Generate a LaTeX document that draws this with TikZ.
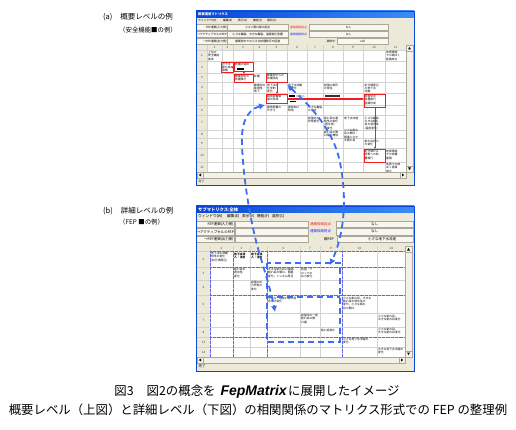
\documentclass[tikz,border=0pt]{standalone}
\usepackage{fontspec}
\setmainfont{Noto Sans CJK JP}
\newfontfamily\fepfont{Liberation Sans}
\usetikzlibrary{arrows.meta}

\definecolor{winblue}{HTML}{0846D8}
\definecolor{barblue}{HTML}{3C8CF8}
\definecolor{xpbeige}{HTML}{ECE9D8}
\definecolor{gridgray}{HTML}{D2D2D2}
\definecolor{hdrline}{HTML}{ACA899}
\definecolor{linkblue}{HTML}{3D6DF2}
\definecolor{blockblue}{HTML}{6464E6}
\definecolor{fepred}{HTML}{F01E1E}
\definecolor{endblue}{HTML}{2020FF}

\newcommand\fepmark{{\fepfont\fontsize{14}{14}\selectfont\bfseries\itshape FepMatrix}}

\begin{document}
\begin{tikzpicture}[x=1pt,y=-1pt,
  every node/.style={inner sep=0pt},
  stxt/.style={font=\fontsize{2.8}{3.4}\selectfont},
  btxt/.style={font=\fontsize{3.5}{4}\selectfont},
  cell/.style={stxt, anchor=north west, align=left},
  hdr/.style={font=\fontsize{3}{3}\selectfont, text=black!75},
  btn/.style={draw=hdrline, fill=xpbeige!40!white, line width=0.3pt, anchor=north west, minimum height=6pt},
  gline/.style={gridgray, line width=0.3pt},
  blockline/.style={blockblue, line width=0.4pt, dash pattern=on 0.6pt off 0.7pt},
  sbar/.style={draw=hdrline, fill=xpbeige!60!white, line width=0.3pt},
  fepbox/.style={draw=fepred, line width=0.9pt, anchor=north west},
  feplink/.style={fepred, line width=0.8pt, -{Latex[length=2.2pt,width=2.4pt]}},
  relink/.style={linkblue, line width=1.8pt, dash pattern=on 6pt off 4pt},
  retip/.style={relink, {Latex[length=6pt,width=6.5pt]}-{Latex[length=6pt,width=6.5pt]}},
  lbl/.style={font=\fontsize{7.5}{9}\selectfont, anchor=west},
  sublbl/.style={font=\fontsize{6.4}{8}\selectfont, anchor=west},
  caption/.style={font=\fontsize{12.4}{14}\selectfont}]
\useasboundingbox (0,0) rectangle (516,430);
\fill[white] (0,0) rectangle (516,430);

% left side labels
\node[lbl] (alab) at (103,17) {(a)\hspace{8pt}概要レベルの例};
\node[sublbl] (asub) at (119,30) {（安全機能■の例）};
\node[lbl] (blab) at (103,211) {(b)\hspace{8pt}詳細レベルの例};
\node[sublbl] (bsub) at (119,222) {（FEP ■の例）};

% ===== upper window =====
\fill[xpbeige] (196,11) rectangle (414,185);
\shade[left color=winblue, right color=barblue] (196,11) rectangle (414,17.5);
\node[font=\fontsize{3.3}{3.3}\selectfont\bfseries, text=white, anchor=west] (utitle) at (198,14.3) {概要運用マトリクス};
\foreach \x/\m [count=\k] in {198/ウィンドウ(W), 223/編集(E), 238/表示(V), 253/機能(F), 267/選択(C)}
  \node[stxt, anchor=west] (umenu\k) at (\x,20.8) {\m};

% buttons
\foreach \y/\l/\m [count=\k] in {24/FEP連鎖(入力側)/小さい開口部の起点, 31/→アクティブセルのFEP/小さな亀裂、大きな亀裂、温度変化影響, 38/→FEP連鎖(出力側)/緩衝材中での小さな核種移行の促進}{
  \node[btn, stxt, minimum width=31pt, text width=30.5pt, align=right] (uleft\k) at (196,\y) {\l};
  \node[btn, stxt, minimum width=61pt] (umid\k) at (227,\y) {\m};
}
\node[stxt, text=fepred, anchor=west] (ustart) at (290,27) {連鎖探索起点};
\node[stxt, text=endblue, anchor=west] (uend) at (290,34) {連鎖探索終点};
\node[stxt, anchor=east] (upar) at (335,41) {親FEP};
\node[btn, stxt, minimum width=79pt] (uval1) at (309,24) {なし};
\node[btn, stxt, minimum width=79pt] (uval2) at (309,31) {なし};
\node[btn, stxt, minimum width=51pt] (uval3) at (337,38) {null};

% grid
\fill[white] (207,50) rectangle (406,172);
\foreach \x in {207,222,233,253,266,287,307,323,343,363,385}
  \draw[gline] (\x,45) -- (\x,172);
\foreach \y in {50,61,73,82,93,105,115,130,138,148,162}
  \draw[gline] (197,\y) -- (406,\y);
\foreach \a/\b [count=\n] in {207/222,222/233,233/253,253/266,266/287,287/307,307/323,323/343,343/363,363/385,385/406}
  \node[hdr] (ucol\n) at ({(\a+\b)/2},47.6) {\n};
\foreach \a/\b [count=\n] in {50/61,61/73,73/82,82/93,93/105,105/115,115/130,130/138,138/148,148/162,162/172}
  \node[hdr] (urow\n) at (202,{(\a+\b)/2}) {\n};

% cell texts
\foreach \x/\y/\t [count=\k] in {
  208/51/{上位の\\安全機能\\喪失},
  386/51/{地表環境\\での被ばく\\経路成立},
  222/62.5/{ガラス\\固化体の\\溶解},
  235/62.5/{核種の溶出},
  235/74.5/{緩衝材中の\\核種移行},
  254/74.5/{影響},
  267/74/{緩衝材からの\\核種流出},
  254/83.5/{緩衝材の\\膨潤性\\低下},
  267/83.5/{地下水の\\化学的\\変化},
  288/83.5/{地下水流動\\の変化},
  324/83.5/{岩盤の変形\\の発生},
  364.5/83.5/{処分場周辺\\の地下水\\流動},
  267/95/{掘削影響領\\域の形成},
  296/95/{小さい},
  364.5/95/{母岩中の\\核種移行\\経路形成},
  267/106/{掘削影響の\\大きさ},
  288/106/{掘削EDZ\\特性},
  308/106/{大きな亀裂\\の発生},
  308/116.5/{岩盤応力\\状態変化},
  324/116.5/{割れ目の連\\結性の変化\\(透水性)\\の変化},
  344/116.5/{地下水流速},
  364.5/116.5/{小さな亀裂\\大きな割れ\\目の透水性\\(温度変化)},
  324/131/{割れ目の開\\口幅の増加},
  344/129/{小さな割れ\\目の開口・\\閉塞と大き\\な割れ目},
  364.5/139.5/{割れ目応力\\の変化},
  364.5/150/{処分場から\\地表への核\\種移行},
  386/150/{地表環境\\での核種\\蓄積},
  386/163/{地表での被\\ばく経路\\成立}}
  \node[cell] (ut\k) at (\x,\y) {\t};
\fill (237,68) rectangle (244,69.6);
\fill (288.5,95.4) rectangle (295,97.4);
\fill (290,100.8) rectangle (296,102.4);
\fill[black!80] (324.5,95.4) rectangle (340,97.4);

% red chain boxes
\node[fepbox, minimum width=12pt, minimum height=10pt] (r1) at (221,62) {};
\node[fepbox, minimum width=19pt, minimum height=9pt] (r2) at (234,62) {};
\node[fepbox, minimum width=19pt, minimum height=8pt] (r3) at (234,74) {};
\node[fepbox, minimum width=21pt, minimum height=9pt] (r4) at (266,73) {};
\node[fepbox, minimum width=21pt, minimum height=9pt] (r5) at (266,94) {};
\node[fepbox, minimum width=21pt, minimum height=13pt] (r6) at (364,94) {};
\node[fepbox, minimum width=21pt, minimum height=13pt] (r7) at (364,149) {};
\draw[feplink] ([xshift=-2pt]r1.east) -- (r2.west);
\draw[feplink] ([yshift=1pt]r2.south) -- (r3.north);
\draw[feplink] (r4.south) -- (r5.north);
\draw[feplink, line width=1.2pt] (r5.east) -- (r5.east -| r6.west);
\draw[feplink] (r6.south) -- (r7.north);

% scroll bars and status bar
\draw[sbar] (406,45) rectangle (413,172);
\draw[sbar] (406,45) rectangle (413,51);
\draw[sbar] (406,166) rectangle (413,172);
\draw[sbar] (197,172) rectangle (406,178);
\draw[sbar] (197,172) rectangle (203,178);
\draw[sbar] (400,172) rectangle (406,178);
\fill (408,49.5) -- (411,49.5) -- (409.5,47) -- cycle;
\fill (408,167.5) -- (411,167.5) -- (409.5,170) -- cycle;
\fill (201,173.5) -- (201,176.5) -- (198.8,175) -- cycle;
\fill (402,173.5) -- (402,176.5) -- (404.2,175) -- cycle;
\node[stxt, anchor=west] (ustat) at (198.5,181.2) {完了};
\draw[winblue, line width=0.8pt] (196,11) rectangle (414,185);

% ===== lower window =====
\fill[xpbeige] (196,206) rectangle (414,371);
\shade[left color=winblue, right color=barblue] (196,206) rectangle (414,213);
\node[font=\fontsize{4.3}{4.3}\selectfont\bfseries, text=white, anchor=west] (ltitle) at (198,209.6) {サブマトリクス:全体};
\foreach \x/\m [count=\k] in {198/ウィンドウ(W), 227/編集(E), 242/表示(V), 257/機能(F), 272/選択(C)}
  \node[font=\fontsize{3.7}{3.7}\selectfont, anchor=west] (lmenu\k) at (\x,216.6) {\m};

\foreach \y/\l [count=\k] in {221/FEP連鎖(入力側), 228.5/→アクティブセルのFEP, 236/→FEP連鎖(出力側)}{
  \node[btn, btxt, minimum width=38pt, text width=37pt, align=right] (lleft\k) at (196,\y) {\l};
  \node[btn, minimum width=73pt] (lmid\k) at (235,\y) {};
}
\node[btxt, text=fepred, anchor=west] (lstart) at (310,224) {連鎖探索起点};
\node[btxt, text=endblue, anchor=west] (lend) at (310,231.5) {連鎖探索終点};
\node[btxt, anchor=east] (lpar) at (334,239) {親FEP};
\node[btn, btxt, minimum width=77pt] (lval1) at (336,221) {なし};
\node[btn, btxt, minimum width=77pt] (lval2) at (336,228.5) {なし};
\node[btn, btxt, minimum width=76pt] (lval3) at (337,236) {\hspace{14pt}小さな地下水流速};

\fill[white] (210,251) rectangle (405,357);
\foreach \x in {210,233,250,267,300,320,342,377}
  \draw[gline] (\x,246) -- (\x,357);
\foreach \y in {251,267,280,295,313,327,337,347}
  \draw[gline] (197,\y) -- (405,\y);
\foreach \a/\b/\n in {210/233/2,233/250/3,250/267/4,267/300/6,300/320/7,320/342/9,342/377/10,377/405/14}
  \node[hdr] (lcol\n) at ({(\a+\b)/2},248.6) {\n};
\foreach \a/\b/\n in {251/267/2,267/280/3,280/295/4,295/313/5,313/327/7,327/337/8,337/347/13,347/357/14}
  \node[hdr] (lrow\n) at (203.5,{(\a+\b)/2}) {\n};

\foreach \x/\y/\t [count=\k] in {
  211/252/{地下水の流動\\特性の変化\\(処分場周辺)},
  234/253/{\bfseries 地下水流\\\bfseries 入・流出},
  251/253/{\bfseries 地下水流\\\bfseries 入・流出},
  234/268/{割れ目の\\透水性\\変化},
  268/268/{大きな割れ目の連結、\\割れ目の開口、閉塞\\変化、トンネル周辺},
  301/268/{岩盤・ブ\\ロックの\\応力変化},
  251/281/{岩盤の応\\力状態の\\変化},
  268/296.5/{小さな一般割れ目の透\\水性の変化},
  343/296.5/{小さな割れ目、大きな\\割れ目の透水性の\\変化、小さな割れ\\目の開口},
  301/314/{岩盤中の一般\\割れ目の開\\口幅},
  378/314.5/{小さな割れ目、\\大きな割れ目変化},
  321/329/{割れ目変化},
  378/328/{小さな割れ目、\\大きな割れ目変化},
  343/338/{小さな地下水流速の\\変化},
  378/348/{大きな地下水流速の\\変化}}
  \node[cell] (lt\k) at (\x,\y) {\t};

% block borders
\foreach \x in {210,233,267,342,405}
  \draw[blockline] (\x,251) -- (\x,357);
\foreach \y in {251,267,295,337,357}
  \draw[blockline] (210,\y) -- (405,\y);

\draw[sbar] (405,246) rectangle (412,357);
\draw[sbar] (405,246) rectangle (412,252);
\draw[sbar] (405,351) rectangle (412,357);
\draw[sbar] (197,357) rectangle (405,363);
\draw[sbar] (197,357) rectangle (203,363);
\draw[sbar] (399,357) rectangle (405,363);
\fill (407,250.5) -- (410,250.5) -- (408.5,248) -- cycle;
\fill (407,352.5) -- (410,352.5) -- (408.5,355) -- cycle;
\fill (201,358.5) -- (201,361.5) -- (198.8,360) -- cycle;
\fill (401,358.5) -- (401,361.5) -- (403.2,360) -- cycle;
\node[btxt, anchor=west] (lstat) at (198.5,366.6) {完了};
\draw[winblue, line width=0.8pt] (196,206) rectangle (414,371);

% detail groups in the lower matrix
\draw[relink] (267,263) rectangle (340,342);
\draw[relink] (267,297) -- (340,297);
\coordinate (aLow) at (275,312);
\coordinate (bLow) at (330,265);

% links between summary FEPs and detail groups
\draw[retip] ([xshift=-1pt,yshift=-1pt]r5.south west) .. controls (246,110) and (241,125) .. (242,145)
  .. controls (243,175) and (250,225) .. (262,262) .. controls (268,282) and (273,300) .. (aLow);
\draw[retip] ([xshift=-0.5pt,yshift=-2pt]r4.south east) .. controls (300,97) and (330,122) .. (339,158)
  .. controls (346,188) and (347,228) .. (bLow);

% caption
\node[caption] (cap1) at (257,392) {図3\hspace{13pt}図2の概念を\hspace{5pt}\fepmark\hspace{1.5pt}に展開したイメージ};
\node[caption] (cap2) at (258,410) {概要レベル（上図）と詳細レベル（下図）の相関関係のマトリクス形式での FEP の整理例};
\end{tikzpicture}
\end{document}
